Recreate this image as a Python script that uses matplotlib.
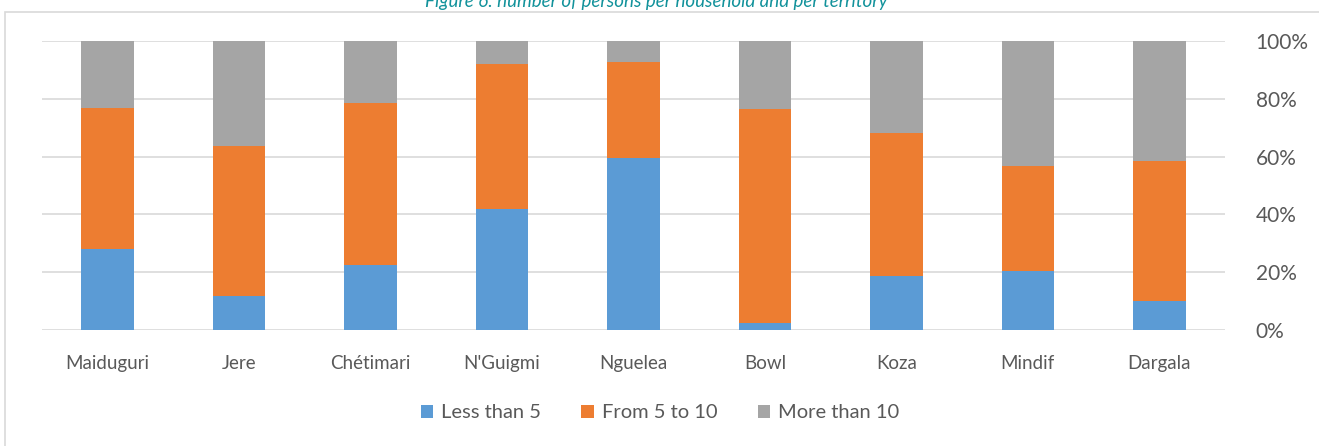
import numpy as np
import matplotlib.pyplot as plt
from matplotlib.patches import Rectangle

territories = ["Maiduguri", "Jere", "Chétimari", "N'Guigmi", "Nguelea",
               "Bowl", "Koza", "Mindif", "Dargala"]
less_5 = [28.0, 11.8, 22.5, 41.9, 59.5, 2.4, 18.7, 20.4, 10.0]
from_5_10 = [48.8, 51.9, 56.0, 50.1, 33.2, 74.1, 49.5, 36.3, 48.5]
more_10 = [23.2, 36.3, 21.5, 8.0, 7.3, 23.5, 31.8, 43.3, 41.5]

plt.rcParams['font.family'] = ['Lato', 'DejaVu Sans']

fig = plt.figure(figsize=(13.19, 4.46), dpi=100)
ax = fig.add_axes([42 / 1319, 1 - 330 / 446, (1225 - 42) / 1319, (330 - 41) / 446])

# frame around the chart area
fig.patches.append(Rectangle((5 / 1319, -0.1), 1.1, 1 - 12 / 446 + 0.1,
                             transform=fig.transFigure, fill=False,
                             edgecolor='#d9d9d9', linewidth=1.2))

x = np.arange(len(territories))
w = 0.4
a = np.array(less_5)
b = np.array(from_5_10)
c = np.array(more_10)
ax.bar(x, a, w, color='#5B9BD5', label='Less than 5', zorder=3)
ax.bar(x, b, w, bottom=a, color='#ED7D31', label='From 5 to 10', zorder=3)
ax.bar(x, c, w, bottom=a + b, color='#A5A5A5', label='More than 10', zorder=3)

ax.set_xlim(-0.5, len(territories) - 0.5)
ax.set_ylim(0, 100)
ax.set_yticks(range(0, 101, 20))
ax.set_yticklabels([f"{v}%" for v in range(0, 101, 20)])
ax.yaxis.tick_right()
ax.set_xticks(x)
ax.set_xticklabels(territories)
ax.tick_params(axis='both', length=0, colors='#595959')
ax.tick_params(axis='y', pad=22, labelsize=15)
ax.tick_params(axis='x', pad=18, labelsize=13.5)
ax.grid(axis='y', color='#d9d9d9', linewidth=1.2, zorder=0)
for s in ax.spines.values():
    s.set_visible(False)

fig.legend(loc='center', bbox_to_anchor=(660 / 1319, 1 - 413 / 446), ncol=3,
           frameon=False, fontsize=14.5, handlelength=0.6, handleheight=0.6,
           columnspacing=2.0, handletextpad=0.4, labelcolor='#595959')

fig.text(656 / 1319, 1 - 2 / 446,
         "Figure 6: number of persons per household and per territory",
         ha='center', va='center', fontsize=13.5, style='italic', color='#12929b')

fig.savefig("out.png", dpi=100)
